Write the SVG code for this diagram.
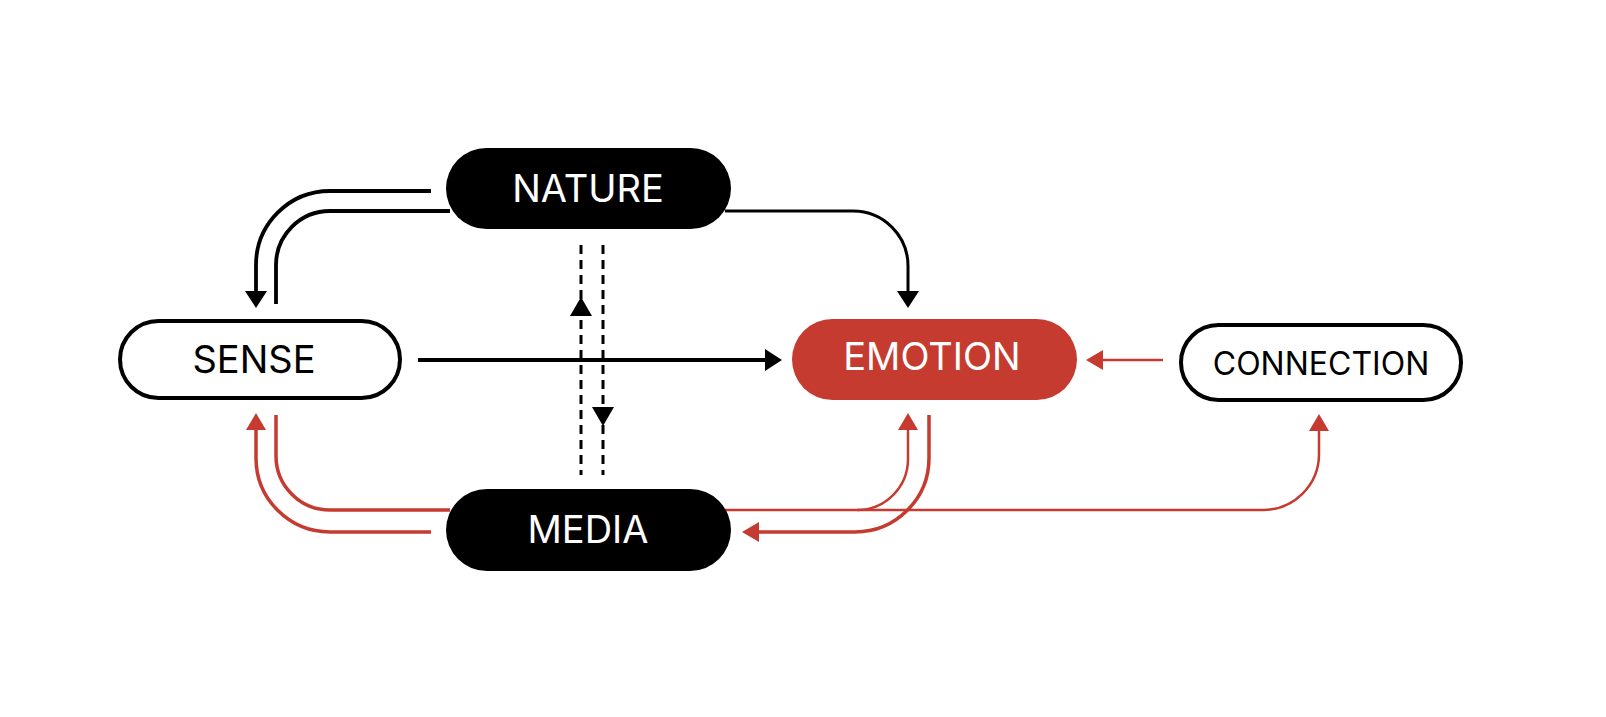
<svg xmlns="http://www.w3.org/2000/svg" width="1606" height="717" viewBox="0 0 1606 717">
<style>
.bk{fill:none;stroke:#000;stroke-width:3.8}
.bkt{fill:none;stroke:#000;stroke-width:3}
.rd{fill:none;stroke:#C63B30;stroke-width:3.5}
.rdt{fill:none;stroke:#C63B30;stroke-width:2.5}
.ds{fill:none;stroke:#000;stroke-width:3;stroke-dasharray:9 6}
.hb{fill:#000}
.lbl{font-family:Inter,"Noto Sans","Liberation Sans",sans-serif;font-weight:400;text-anchor:middle}
</style>
<defs>
<marker id="ab" viewBox="0 0 17 22" refX="1" refY="11" markerWidth="17" markerHeight="22" markerUnits="userSpaceOnUse" orient="auto"><path d="M0,0 L17,11 L0,22 z" fill="#000"/></marker>
<marker id="ar" viewBox="0 0 17 20" refX="1" refY="10" markerWidth="17" markerHeight="20" markerUnits="userSpaceOnUse" orient="auto"><path d="M0,0 L17,10 L0,20 z" fill="#C63B30"/></marker>
</defs>
<rect width="1606" height="717" fill="#fff"/>
<g id="connectors">
<path class="bk" d="M431,191 H330 A74,74 0 0 0 256,265 V292" marker-end="url(#ab)"/>
<path class="bk" d="M276,304 V265 A54,54 0 0 1 330,211 H450"/>
<path class="bkt" d="M725,211 H853 A55,55 0 0 1 908,266 V292" marker-end="url(#ab)"/>
<path class="bk" d="M418,360 H766" marker-end="url(#ab)"/>
<path class="ds" d="M581,245 V475"/>
<path class="ds" d="M603,245 V475"/>
<path class="hb" d="M581,297 L592,316 L570,316 z"/>
<path class="hb" d="M603,426 L614,407 L592,407 z"/>
<path class="rdt" d="M1163,360 H1102" marker-end="url(#ar)"/>
<path class="rdt" d="M725,510 H1263 A56,56 0 0 0 1319,454 V430" marker-end="url(#ar)"/>
<path class="rd" d="M276,415 V456 A54,54 0 0 0 330,510 H450"/>
<path class="rd" d="M431,532 H330 A74,74 0 0 1 256,458 V429" marker-end="url(#ar)"/>
<path class="rdt" d="M857,510 A51,51 0 0 0 908,459 V429" marker-end="url(#ar)"/>
<path class="rd" d="M929,415 V458 A74,74 0 0 1 855,532 H758" marker-end="url(#ar)"/>
</g>
<g id="nature">
<rect x="446" y="148" width="285" height="81" rx="40.5" fill="#000"/>
<text class="lbl" x="588" y="202" font-size="38" fill="#fff">NATURE</text>
</g>
<g id="sense">
<rect x="120" y="321" width="280" height="77" rx="38.5" fill="#fff" stroke="#000" stroke-width="4"/>
<text class="lbl" x="254" y="373" font-size="38" fill="#000">SENSE</text>
</g>
<g id="emotion">
<rect x="792" y="319" width="285" height="81" rx="40.5" fill="#C63B30"/>
<text class="lbl" x="932" y="370" font-size="38" fill="#fff">EMOTION</text>
</g>
<g id="connection">
<rect x="1181" y="325" width="280" height="75" rx="37.5" fill="#fff" stroke="#000" stroke-width="4"/>
<text class="lbl" x="1321" y="375" font-size="32" fill="#000">CONNECTION</text>
</g>
<g id="media">
<rect x="446" y="489" width="285" height="82" rx="41" fill="#000"/>
<text class="lbl" x="588" y="543" font-size="38" fill="#fff">MEDIA</text>
</g>
</svg>
